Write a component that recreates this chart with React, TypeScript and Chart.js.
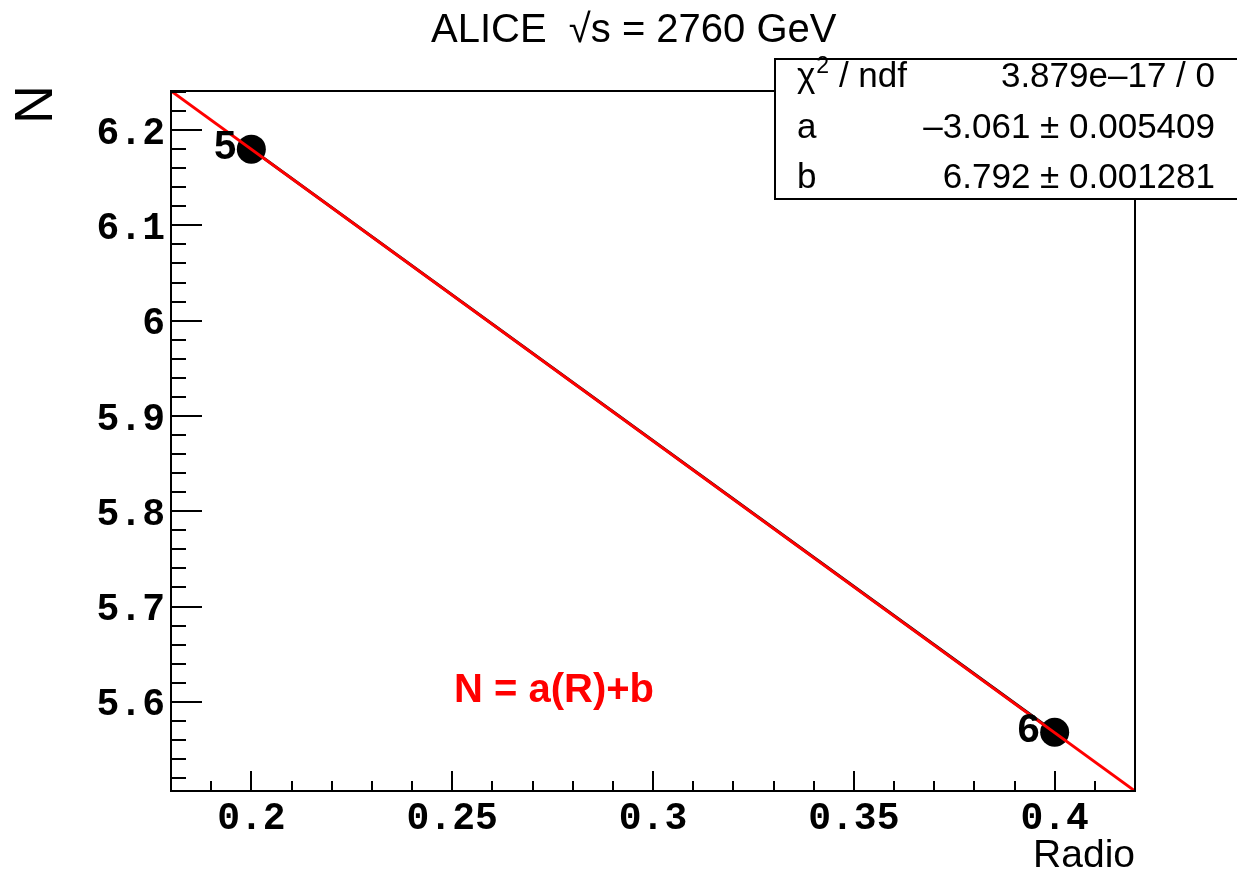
import React, { useEffect, useRef } from 'react';
import { Chart, registerables } from 'chart.js';

Chart.register(...registerables);

// ---- data ----
const pointX = [0.2, 0.4];
const pointY = [6.18, 5.568];
const pointLabels = ['5', '6'];
const fitX = [0.18, 0.42];
const fitY = [6.241, 5.5064];
const xTicks = [0.2, 0.25, 0.3, 0.35, 0.4];
const xTickLabels = ['0.2', '0.25', '0.3', '0.35', '0.4'];
const yTicks = [5.6, 5.7, 5.8, 5.9, 6.0, 6.1, 6.2];
const yTickLabels = ['5.6', '5.7', '5.8', '5.9', '6', '6.1', '6.2'];
const xRange = [0.18, 0.42];
const yRange = [5.5064, 6.241];
const statNames = ['χ', 'a', 'b'];
const statValues = ['3.879e\u201317 / 0', '\u20133.061 \u00b1 0.005409', '6.792 \u00b1 0.001281'];
const titleText = 'ALICE  \u221As = 2760 GeV';
const fitLabel = 'N = a(R)+b';
const xTitle = 'Radio';
const yTitle = 'N';

const W = 1237;
const H = 872;

const rootPlugin = {
  id: 'rootStyle',
  beforeDraw(chart: any) {
    const ctx = chart.ctx;
    ctx.save();
    ctx.fillStyle = '#fff';
    ctx.fillRect(0, 0, chart.width, chart.height);
    ctx.restore();
  },
  afterDatasetsDraw(chart: any) {
    const ctx: CanvasRenderingContext2D = chart.ctx;
    const a = chart.chartArea;
    const xs = chart.scales.x;
    const ys = chart.scales.y;
    ctx.save();
    // frame
    ctx.strokeStyle = '#000';
    ctx.lineWidth = 2;
    ctx.strokeRect(a.left, a.top, a.right - a.left, a.bottom - a.top);

    // inward ticks
    ctx.lineWidth = 2;
    ctx.beginPath();
    for (const v of yTicks) {
      const p = Math.round(ys.getPixelForValue(v));
      ctx.moveTo(a.left, p);
      ctx.lineTo(a.left + 31, p);
    }
    for (let i = Math.ceil(yRange[0] / 0.02 + 1e-6); i * 0.02 < yRange[1] - 1e-6; i++) {
      const v = i * 0.02;
      if (Math.abs(v * 10 - Math.round(v * 10)) < 1e-6) continue;
      const p = Math.round(ys.getPixelForValue(v));
      ctx.moveTo(a.left, p);
      ctx.lineTo(a.left + 15, p);
    }
    for (const v of xTicks) {
      const p = Math.round(xs.getPixelForValue(v));
      ctx.moveTo(p, a.bottom);
      ctx.lineTo(p, a.bottom - 20);
    }
    for (let i = Math.ceil(xRange[0] / 0.01 + 1e-6); i * 0.01 < xRange[1] - 1e-6; i++) {
      const v = i * 0.01;
      if (Math.abs(v * 20 - Math.round(v * 20)) < 1e-6) continue;
      const p = Math.round(xs.getPixelForValue(v));
      ctx.moveTo(p, a.bottom);
      ctx.lineTo(p, a.bottom - 10);
    }
    ctx.stroke();

    // point labels
    ctx.fillStyle = '#000';
    ctx.font = 'bold 40px "Liberation Sans", Arial, sans-serif';
    ctx.textAlign = 'right';
    ctx.textBaseline = 'alphabetic';
    pointX.forEach((x, i) => {
      const px = xs.getPixelForValue(x);
      const py = ys.getPixelForValue(pointY[i]);
      ctx.fillText(pointLabels[i], px - 15, py + 10);
    });

    // fit label
    ctx.fillStyle = '#ff0000';
    ctx.font = 'bold 40px "Liberation Sans", Arial, sans-serif';
    ctx.textAlign = 'left';
    ctx.fillText(fitLabel, 454, 702);

    // stats box
    ctx.fillStyle = '#fff';
    ctx.fillRect(775, 59, 480, 140);
    ctx.strokeStyle = '#000';
    ctx.lineWidth = 2;
    ctx.strokeRect(775, 59, 480, 140);
    ctx.fillStyle = '#000';
    const baselines = [87, 137.5, 188];
    statNames.forEach((n, i) => {
      ctx.textAlign = 'left';
      ctx.font = '35px "Liberation Sans", Arial, sans-serif';
      ctx.fillText(n, 797, baselines[i]);
      if (i === 0) {
        const w = ctx.measureText(n).width;
        ctx.font = '23px "Liberation Sans", Arial, sans-serif';
        ctx.fillText('2', 797 + w + 1, baselines[i] - 14);
        const w2 = ctx.measureText('2').width;
        ctx.font = '35px "Liberation Sans", Arial, sans-serif';
        ctx.fillText(' / ndf', 797 + w + 1 + w2, baselines[i]);
      }
      ctx.textAlign = 'right';
      ctx.font = '35px "Liberation Sans", Arial, sans-serif';
      ctx.fillText(statValues[i], 1215, baselines[i]);
    });

    // title
    ctx.textAlign = 'left';
    ctx.font = '40px "Liberation Sans", Arial, sans-serif';
    ctx.fillText(titleText, 431, 42);

    // x title
    ctx.textAlign = 'right';
    ctx.font = '39px "Liberation Sans", Arial, sans-serif';
    ctx.fillText(xTitle, 1135, 867);

    // y title (rotated)
    ctx.save();
    ctx.translate(52, 85);
    ctx.rotate(-Math.PI / 2);
    ctx.textAlign = 'right';
    ctx.textBaseline = 'alphabetic';
    ctx.font = '54px "Liberation Sans", Arial, sans-serif';
    ctx.fillText(yTitle, 0, 0);
    ctx.restore();

    ctx.restore();
  },
};

const tickFont = { family: '"Liberation Mono", "Courier New", monospace', size: 38, weight: 'bold' as const };

export default function App() {
  const ref = useRef<HTMLCanvasElement | null>(null);
  useEffect(() => {
    if (!ref.current) return;
    const chart = new Chart(ref.current, {
      type: 'scatter',
      data: {
        datasets: [
          {
            label: 'fit',
            data: fitX.map((x, i) => ({ x, y: fitY[i] })),
            showLine: true,
            borderColor: '#ff0000',
            borderWidth: 3,
            pointRadius: 0,
            order: 0,
          },
          {
            label: 'graph',
            data: pointX.map((x, i) => ({ x, y: pointY[i] })),
            showLine: true,
            borderColor: '#000000',
            borderWidth: 3,
            pointRadius: 14.5,
            pointBackgroundColor: '#000000',
            pointBorderWidth: 0,
            order: 1,
          },
        ],
      },
      options: {
        responsive: false,
        animation: false,
        devicePixelRatio: 1,
        layout: { padding: { left: 0, top: 91, right: 102, bottom: 0 } },
        plugins: { legend: { display: false }, tooltip: { enabled: false }, title: { display: false } },
        scales: {
          x: {
            type: 'linear',
            min: xRange[0],
            max: xRange[1],
            afterBuildTicks: (s: any) => {
              s.ticks = xTicks.map((v) => ({ value: v }));
            },
            afterFit: (s: any) => {
              s.height = 81;
            },
            grid: { display: false },
            border: { display: false },
            ticks: {
              font: tickFont,
              color: '#000',
              padding: -2,
              maxRotation: 0,
              autoSkip: false,
              callback: (value: any) => {
                const i = xTicks.findIndex((t) => Math.abs(t - Number(value)) < 1e-9);
                return i >= 0 ? xTickLabels[i] : '';
              },
            },
          },
          y: {
            type: 'linear',
            min: yRange[0],
            max: yRange[1],
            afterBuildTicks: (s: any) => {
              s.ticks = yTicks.map((v) => ({ value: v }));
            },
            afterFit: (s: any) => {
              s.width = 171;
            },
            grid: { display: false },
            border: { display: false },
            ticks: {
              font: tickFont,
              color: '#000',
              padding: -2,
              labelOffset: 4,
              autoSkip: false,
              callback: (value: any) => {
                const i = yTicks.findIndex((t) => Math.abs(t - Number(value)) < 1e-9);
                return i >= 0 ? yTickLabels[i] : '';
              },
            },
          },
        },
      },
      plugins: [rootPlugin],
    } as any);
    return () => chart.destroy();
  }, []);
  return (
    <div style={{ position: 'absolute', left: 0, top: 0, width: W, height: H }}>
      <canvas ref={ref} width={W} height={H} style={{ display: 'block', width: W, height: H }} />
    </div>
  );
}
